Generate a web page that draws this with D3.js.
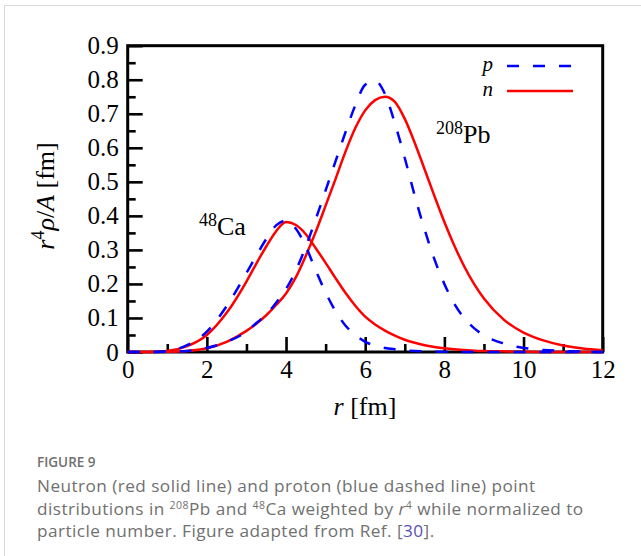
<!DOCTYPE html>
<html>
<head>
<meta charset="utf-8">
<script src="https://cdn.jsdelivr.net/npm/d3@7/dist/d3.min.js"></script>
<style>
  html, body { margin: 0; padding: 0; background: #fff; }
  svg { display: block; }
  .cap { font-family: "Open Sans", sans-serif; fill: #707070; }
</style>
</head>
<body>
<svg id="chart" width="641" height="556"></svg>
<script>
// ---- data ----
const rGrid = [0, 0.5, 1, 1.5, 2, 2.5, 3, 3.25, 3.5, 3.75, 4, 4.25, 4.5, 4.75, 5, 5.25, 5.5, 5.75,
  6, 6.25, 6.5, 6.75, 7, 7.25, 7.5, 7.75, 8, 8.25, 8.5, 8.75, 9, 9.5, 10, 10.5, 11, 11.5, 12];

const caProton = [0, 0, 0.003, 0.02, 0.06, 0.135, 0.232, 0.283, 0.332, 0.372, 0.386, 0.362, 0.31, 0.24,
  0.175, 0.12, 0.078, 0.05, 0.03, 0.019, 0.012, 0.008, 0.005, 0.003, 0.002, 0.001, 0.001, 0, 0, 0, 0, 0, 0, 0, 0, 0, 0];

const caNeutron = [0, 0, 0.003, 0.017, 0.05, 0.115, 0.207, 0.26, 0.31, 0.355, 0.382, 0.373, 0.346, 0.305,
  0.262, 0.217, 0.174, 0.136, 0.104, 0.081, 0.063, 0.048, 0.036, 0.027, 0.02, 0.015, 0.011, 0.008, 0.006,
  0.004, 0.003, 0.002, 0.001, 0, 0, 0, 0];

const pbProton = [0, 0, 0.0005, 0.003, 0.012, 0.03, 0.06, 0.085, 0.11, 0.145, 0.185, 0.24, 0.31, 0.39,
  0.475, 0.56, 0.645, 0.725, 0.785, 0.797, 0.758, 0.672, 0.57, 0.46, 0.36, 0.272, 0.2, 0.142, 0.1, 0.07, 0.049,
  0.025, 0.012, 0.006, 0.003, 0.001, 0];

const pbNeutron = [0, 0, 0.0005, 0.003, 0.011, 0.03, 0.062, 0.083, 0.108, 0.138, 0.172, 0.22, 0.283, 0.353,
  0.43, 0.508, 0.588, 0.658, 0.71, 0.74, 0.75, 0.735, 0.685, 0.615, 0.537, 0.458, 0.382, 0.313, 0.252, 0.2,
  0.157, 0.095, 0.057, 0.034, 0.019, 0.01, 0.005];

const xMajor = [0, 2, 4, 6, 8, 10, 12];
const xMinor = [1, 3, 5, 7, 9, 11];
const yMajor = [0, 0.1, 0.2, 0.3, 0.4, 0.5, 0.6, 0.7, 0.8, 0.9];
const yMinor = [0.05, 0.15, 0.25, 0.35, 0.45, 0.55, 0.65, 0.75, 0.85];
const yTickLabels = ["0", "0.1", "0.2", "0.3", "0.4", "0.5", "0.6", "0.7", "0.8", "0.9"];

const series = [
  { name: "caN", values: caNeutron, color: "#ff0000", dash: null },
  { name: "pbN", values: pbNeutron, color: "#ff0000", dash: null },
  { name: "caP", values: caProton, color: "#0000ff", dash: "12,14" },
  { name: "pbP", values: pbProton, color: "#0000ff", dash: "12,14" }
];

// ---- layout ----
const svg = d3.select("#chart");
const L = 127.7, R = 602.7, T = 45.7, B = 352;
const x = d3.scaleLinear().domain([0, 12]).range([L, R]);
const y = d3.scaleLinear().domain([0, 0.9]).range([B, T]);
const serif = "'Liberation Serif', 'Times New Roman', serif";
const FS = 25;

// outer light frame
svg.append("rect").attr("x", 4.5).attr("y", 5.5).attr("width", 700).attr("height", 600)
  .attr("fill", "none").attr("stroke", "#d9d9d9").attr("stroke-width", 1);

// axes
const yAxisMaj = d3.axisLeft(y).tickValues(yMajor).tickSize(-15).tickPadding(9)
  .tickFormat((d, i) => yTickLabels[i]);
const yAxisMin = d3.axisLeft(y).tickValues(yMinor).tickSize(-8).tickFormat("");
const xAxisMaj = d3.axisBottom(x).tickValues(xMajor).tickSize(-15).tickPadding(8).tickFormat(d3.format("d"));
const xAxisMin = d3.axisBottom(x).tickValues(xMinor).tickSize(-8).tickFormat("");

function styleAxis(g) {
  g.select(".domain").remove();
  g.selectAll(".tick line").attr("stroke", "#000").attr("stroke-width", 2.6);
  g.selectAll(".tick text").attr("fill", "#000").style("font-family", serif).style("font-size", FS + "px");
}
svg.append("g").attr("transform", `translate(${L},0)`).call(yAxisMaj).call(styleAxis);
svg.append("g").attr("transform", `translate(${L},0)`).call(yAxisMin).call(styleAxis);
svg.append("g").attr("transform", `translate(0,${B})`).call(xAxisMaj).call(styleAxis);
svg.append("g").attr("transform", `translate(0,${B})`).call(xAxisMin).call(styleAxis);

// frame
svg.append("rect").attr("x", L).attr("y", T).attr("width", R - L).attr("height", B - T)
  .attr("fill", "none").attr("stroke", "#000").attr("stroke-width", 3);

// curves
const line = d3.line().x((d, i) => x(rGrid[i])).y(d => y(d)).curve(d3.curveMonotoneX);
svg.append("g").selectAll("path").data(series).join("path")
  .attr("d", d => line(d.values))
  .attr("fill", "none")
  .attr("stroke", d => d.color)
  .attr("stroke-width", 2.5)
  .attr("stroke-dasharray", d => d.dash);

// legend
const legend = [
  { label: "p", color: "#0000ff", dash: "12,14", ty: 71, ly: 66 },
  { label: "n", color: "#ff0000", dash: null, ty: 96, ly: 91 }
];
legend.forEach(l => {
  svg.append("text").attr("x", 493).attr("y", l.ty).attr("text-anchor", "end")
    .style("font-family", serif).style("font-size", "21px").style("font-style", "italic").text(l.label);
  svg.append("line").attr("x1", 507).attr("x2", 573).attr("y1", l.ly).attr("y2", l.ly)
    .attr("stroke", l.color).attr("stroke-width", 2.5).attr("stroke-dasharray", l.dash);
});

// nucleus labels
function nucleus(xp, yp, mass, sym) {
  const t = svg.append("text").attr("x", xp).attr("y", yp)
    .style("font-family", serif).style("font-size", "26px");
  t.append("tspan").attr("dy", "-9").style("font-size", "18px").text(mass);
  t.append("tspan").attr("dy", "9").text(sym);
}
nucleus(199, 235, "48", "Ca");
nucleus(436, 143, "208", "Pb");

// axis titles
const xt = svg.append("text").attr("x", 365).attr("y", 415).attr("text-anchor", "middle")
  .style("font-family", serif).style("font-size", "26px");
xt.append("tspan").style("font-style", "italic").text("r");
xt.append("tspan").text(" [fm]");

const yt = svg.append("text").attr("transform", "translate(54,196) rotate(-90)").attr("text-anchor", "middle")
  .style("font-family", serif).style("font-size", "26px");
yt.append("tspan").style("font-style", "italic").text("r");
yt.append("tspan").attr("dy", "-10").style("font-size", "18px").text("4");
yt.append("tspan").attr("dy", "10").style("font-style", "italic").text("ρ");
yt.append("tspan").text("/");
yt.append("tspan").style("font-style", "italic").text("A");
yt.append("tspan").text(" [fm]");

// caption
svg.append("text").attr("class", "cap").attr("x", 37).attr("y", 467)
  .style("font-size", "13.5px").style("font-weight", "600").text("FIGURE 9");
const capLines = [
  [{ t: "Neutron (red solid line) and proton (blue dashed line) point" }],
  [{ t: "distributions in " }, { t: "208", sup: true }, { t: "Pb and " }, { t: "48", sup: true },
   { t: "Ca weighted by " }, { t: "r", it: true }, { t: "4", sup: true }, { t: " while normalized to" }],
  [{ t: "particle number. Figure adapted from Ref. [" }, { t: "30", link: true }, { t: "]." }]
];
capLines.forEach((parts, i) => {
  const t = svg.append("text").attr("class", "cap").attr("x", 37).attr("y", 492 + i * 22.5)
    .style("font-size", "17.2px").style("letter-spacing", "0.45px");
  let raised = false;
  parts.forEach(p => {
    const s = t.append("tspan").text(p.t);
    if (p.sup) { s.style("font-size", "10.5px").attr("dy", raised ? 0 : -5.5); raised = true; }
    else if (raised) { s.attr("dy", 5.5); raised = false; }
    if (p.it) s.style("font-style", "italic");
    if (p.link) s.style("fill", "#5b50b8");
  });
});
</script>
</body>
</html>
